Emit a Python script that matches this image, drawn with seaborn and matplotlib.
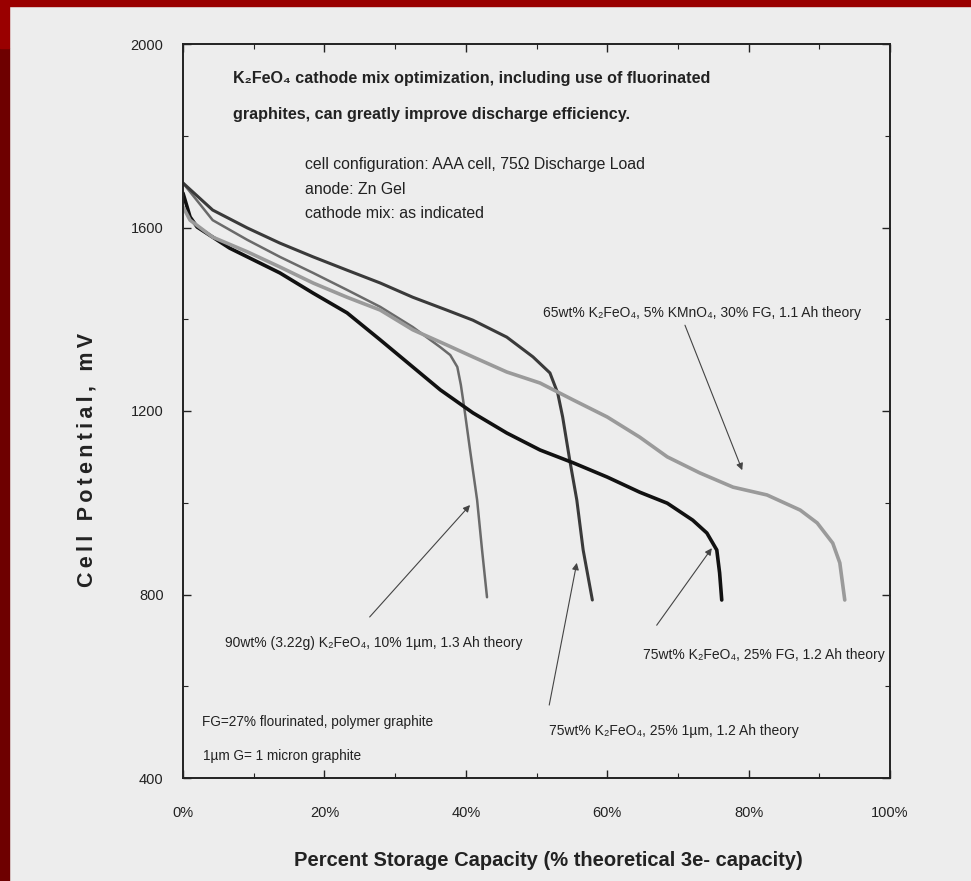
import matplotlib
matplotlib.use("Agg")
import matplotlib.pyplot as plt
from matplotlib.patches import Rectangle
import seaborn as sns
import pandas as pd

sns.set_theme(style="white")
FAM = ['Liberation Sans', 'DejaVu Sans']
plt.rcParams['font.family'] = FAM

# ---------------- data ----------------
cap_1um75 = [0, 4.2, 9.1, 13.7, 18.4, 23.2, 27.9, 32.5, 37.3, 41.0, 45.8, 49.5, 51.9, 53.0, 53.7, 54.7, 55.7, 56.6, 57.9]
mv_1um75 = [1697, 1638, 1599, 1566, 1536, 1507, 1479, 1448, 1420, 1398, 1361, 1318, 1283, 1239, 1187, 1093, 1006, 897, 788]

cap_90 = [0, 4.2, 9.1, 13.7, 18.4, 23.2, 27.9, 32.5, 36.4, 37.8, 38.8, 39.3, 39.8, 40.6, 41.6, 42.3, 43.0]
mv_90 = [1697, 1616, 1573, 1536, 1501, 1464, 1427, 1383, 1339, 1322, 1296, 1257, 1205, 1115, 1006, 897, 794]

cap_65 = [0, 1.0, 4.2, 9.1, 13.7, 18.4, 23.2, 27.9, 32.5, 37.3, 41.0, 45.8, 50.5, 55.2, 60.0, 64.6, 68.5, 73.1, 77.8, 82.6, 87.3, 89.7, 91.9, 92.9, 93.6]
mv_65 = [1645, 1616, 1579, 1547, 1514, 1479, 1448, 1420, 1377, 1344, 1318, 1285, 1261, 1224, 1187, 1143, 1100, 1065, 1034, 1017, 984, 956, 912, 869, 788]

cap_fg75 = [0, 1.0, 2.0, 6.6, 13.7, 18.4, 23.2, 27.9, 32.5, 36.4, 41.0, 45.8, 50.5, 55.2, 60.0, 64.6, 68.5, 72.1, 74.1, 75.5, 75.9, 76.2]
mv_fg75 = [1675, 1623, 1601, 1555, 1501, 1457, 1414, 1355, 1296, 1246, 1196, 1152, 1115, 1087, 1056, 1023, 999, 962, 934, 897, 847, 788]

x_ticks = [0, 20, 40, 60, 80, 100]
x_tick_labels = ["0%", "20%", "40%", "60%", "80%", "100%"]
y_ticks = [400, 800, 1200, 1600, 2000]

series = [
    ("90wt% (3.22g) K₂FeO₄, 10% 1µm, 1.3 Ah theory", cap_90, mv_90),
    ("75wt% K₂FeO₄, 25% 1µm, 1.2 Ah theory", cap_1um75, mv_1um75),
    ("75wt% K₂FeO₄, 25% FG, 1.2 Ah theory", cap_fg75, mv_fg75),
    ("65wt% K₂FeO₄, 5% KMnO₄, 30% FG, 1.1 Ah theory", cap_65, mv_65),
]
styles = {
    series[0][0]: dict(color="#6a6a6a", lw=1.8),
    series[1][0]: dict(color="#3a3a3a", lw=2.2),
    series[2][0]: dict(color="#111111", lw=2.6),
    series[3][0]: dict(color="#9a9a9a", lw=2.6),
}

# ---------------- figure ----------------
W, H = 971, 881
BG = "#ededed"
TXT = "#222222"
fig = plt.figure(figsize=(W / 100, H / 100), dpi=100, facecolor=BG)

def fx(px):
    return px / W

def fy(py):
    return 1 - py / H

# slide border
fig.patches.append(Rectangle((0, fy(6)), 1, 6 / H, transform=fig.transFigure, color="#9a0000", zorder=0))
fig.patches.append(Rectangle((0, 0), 9 / W, fy(48), transform=fig.transFigure, color="#6e0000", zorder=0))
fig.patches.append(Rectangle((0, fy(48)), 9 / W, 48 / H, transform=fig.transFigure, color="#9a0000", zorder=0))

ax = fig.add_axes([fx(183), fy(778), fx(890) - fx(183), (778 - 44) / H])
ax.set_facecolor(BG)

for name, xs, ys in series:
    df = pd.DataFrame({"cap": xs, "mv": ys})
    st = styles[name]
    sns.lineplot(data=df, x="cap", y="mv", ax=ax, sort=False, color=st["color"],
                 linewidth=st["lw"], legend=False)

ax.set_xlim(0, 100)
ax.set_ylim(400, 2000)
ax.set_xticks(x_ticks)
ax.set_xticklabels(x_tick_labels)
ax.set_xticks(range(0, 101, 10), minor=True)
ax.set_yticks(y_ticks)
ax.set_yticks(range(400, 2001, 200), minor=True)
ax.tick_params(axis="both", which="both", direction="in", top=True, right=True,
               bottom=True, left=True, color=TXT)
ax.tick_params(axis="both", which="major", length=6, width=1.0, labelsize=10.5, labelcolor=TXT)
ax.tick_params(axis="both", which="minor", length=3.5, width=0.8)
ax.tick_params(axis="x", which="major", pad=20)
ax.tick_params(axis="y", which="major", pad=14)
for s in ax.spines.values():
    s.set_color(TXT)
    s.set_linewidth(1.4)
ax.set_xlabel("")
ax.set_ylabel("")

# axis titles
fig.text(fx(548), fy(860), "Percent Storage Capacity (% theoretical 3e- capacity)",
         ha="center", va="center", fontsize=14.5, fontweight="bold", color=TXT)
fig.text(fx(87), fy(460), "\u2009".join("Cell Potential, mV"), rotation=90, ha="center", va="center",
         fontsize=15.5, fontweight="bold", color=TXT)

# heading / notes
fig.text(fx(233), fy(79), "K₂FeO₄ cathode mix optimization, including use of fluorinated",
         ha="left", va="center", fontsize=11.6, fontweight="bold", color=TXT)
fig.text(fx(233), fy(115), "graphites, can greatly improve discharge efficiency.",
         ha="left", va="center", fontsize=11.6, fontweight="bold", color=TXT)
for py, t in [(164, "cell configuration: AAA cell, 75Ω Discharge Load"),
              (189, "anode: Zn Gel"),
              (213, "cathode mix: as indicated")]:
    fig.text(fx(305), fy(py), t, ha="left", va="center", fontsize=11.4, color=TXT)
fig.text(fx(202), fy(722), "FG=27% flourinated, polymer graphite", ha="left", va="center",
         fontsize=9.8, color=TXT)
fig.text(fx(203), fy(756), "1µm G= 1 micron graphite", ha="left", va="center",
         fontsize=9.8, color=TXT)

# curve labels with arrows
arrow_kw = dict(arrowstyle="-|>", color="#444444", lw=0.8, mutation_scale=10, shrinkA=0, shrinkB=0)
labels = [
    (series[0][0], (40.6, 995), (26.4, 751), (5.9, 694)),
    (series[1][0], (55.7, 869), (51.8, 559), (51.8, 502)),
    (series[2][0], (74.8, 901), (67.0, 733), (65.1, 668)),
    (series[3][0], (79.1, 1071), (71.0, 1387), (50.9, 1414)),
]
for name, tip, tail, tpos in labels:
    ax.annotate("", xy=tip, xytext=tail, arrowprops=arrow_kw)
    ax.text(tpos[0], tpos[1], name, ha="left", va="center", fontsize=10, color=TXT)

fig.savefig("out.png", dpi=100, facecolor=BG)
